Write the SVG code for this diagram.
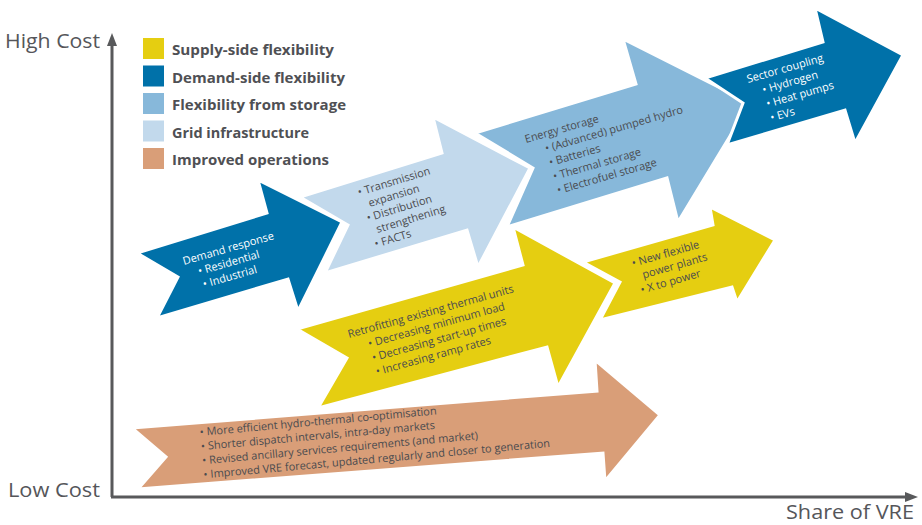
<svg xmlns="http://www.w3.org/2000/svg" width="922" height="525" viewBox="0 0 922 525">
<style>
.arr{stroke:#fff;stroke-width:3;stroke-linejoin:miter}
.sup{fill:#E5CE11}
.dem{fill:#0071A9}
.sto{fill:#87B8DA}
.grd{fill:#C2D9EC}
.ops{fill:#D99E78}
.t{font-family:"Open Sans","Noto Sans",sans-serif;font-size:11px;fill:#4A4B4F}
.tw{font-family:"Open Sans","Noto Sans",sans-serif;font-size:11px;fill:#fff}
.lg{font-family:"Open Sans","Noto Sans",sans-serif;font-size:15px;font-weight:bold;fill:#4F5054}
.ax{font-family:"Open Sans","Noto Sans",sans-serif;font-size:20px;fill:#55565A}
.axl{stroke:#58595B;stroke-width:3;fill:none}
</style>
<defs>
<marker id="ah" markerUnits="userSpaceOnUse" markerWidth="13" markerHeight="10" viewBox="0 0 13 10" refX="0" refY="5" orient="auto">
<path d="M0,0 L13,5 L0,10 z" fill="#58595B"/>
</marker>
</defs>

<g id="axes">
<line class="axl" x1="112" y1="497" x2="112" y2="46" marker-end="url(#ah)"/>
<line class="axl" x1="111" y1="497" x2="905" y2="497" marker-end="url(#ah)"/>
<text class="ax" x="5" y="48" textLength="95" lengthAdjust="spacingAndGlyphs">High Cost</text>
<text class="ax" x="8" y="497" textLength="92" lengthAdjust="spacingAndGlyphs">Low Cost</text>
<text class="ax" x="786" y="519" textLength="128" lengthAdjust="spacingAndGlyphs">Share of VRE</text>
</g>

<g id="legend">
<rect class="sup" x="143" y="38" width="21" height="21"/>
<text class="lg" x="172" y="55" textLength="162" lengthAdjust="spacingAndGlyphs">Supply-side flexibility</text>
<rect class="dem" x="143" y="65.5" width="21" height="21"/>
<text class="lg" x="172" y="82.5" textLength="173" lengthAdjust="spacingAndGlyphs">Demand-side flexibility</text>
<rect class="sto" x="143" y="93" width="21" height="21"/>
<text class="lg" x="172" y="110" textLength="174" lengthAdjust="spacingAndGlyphs">Flexibility from storage</text>
<rect class="grd" x="143" y="120.5" width="21" height="21"/>
<text class="lg" x="172" y="137.5" textLength="137" lengthAdjust="spacingAndGlyphs">Grid infrastructure</text>
<rect class="ops" x="143" y="148" width="21" height="21"/>
<text class="lg" x="172" y="165" textLength="157" lengthAdjust="spacingAndGlyphs">Improved operations</text>
</g>

<g id="improved-operations">
<polygon class="arr ops" points="132,428 597,391 595,360 660,415 605,481 603,453 138,489 166,457"/>
<text class="t" transform="translate(200,436) rotate(-5.2)">
<tspan x="0" y="0">• More efficient hydro-thermal co-optimisation</tspan>
<tspan x="0" dy="14.2">• Shorter dispatch intervals, intra-day markets</tspan>
<tspan x="0" dy="14.2">• Revised ancillary services requirements (and market)</tspan>
<tspan x="0" dy="14.2">• Improved VRE forecast, updated regularly and closer to generation</tspan>
</text>
</g>

<g id="retrofitting">
<polygon class="arr sup" points="297,329 523,265 513,227 615,283 558,387 547,347 318,408 347,358"/>
<text class="t" transform="translate(349,338) rotate(-15.5)">
<tspan x="0" y="0">Retrofitting existing thermal units</tspan>
<tspan x="17" dy="14.5">• Decreasing minimum load</tspan>
<tspan x="17" dy="14.5">• Decreasing start-up times</tspan>
<tspan x="17" dy="14.5">• Increasing ramp rates</tspan>
</text>
</g>

<g id="new-flexible">
<polygon class="arr sup" points="583,262 713,225 710,207 775,240 737,302 732,287 600,320 620,282"/>
<text class="t" transform="translate(633,267) rotate(-16)">
<tspan x="0" y="0">• New flexible</tspan>
<tspan x="7" dy="14">power plants</tspan>
<tspan x="1" dy="14">• X to power</tspan>
</text>
</g>

<g id="demand-response">
<polygon class="arr dem" points="137,253 267,213 258,180 342,222 298,311 288,279 157,318 178,277"/>
<text class="tw" transform="translate(184,265) rotate(-16)">
<tspan x="0" y="0">Demand response</tspan>
<tspan x="12" dy="13.8">• Residential</tspan>
<tspan x="13" dy="13.8">• Industrial</tspan>
</text>
</g>

<g id="grid-infrastructure">
<polygon class="arr grd" points="300,197 442,153 433,117 530,168 478,267 467,230 325,273 348,225"/>
<text class="t" transform="translate(359,196) rotate(-17)">
<tspan x="0" y="0">• Transmission</tspan>
<tspan x="7" dy="13.6">expansion</tspan>
<tspan x="1" dy="13.6">• Distribution</tspan>
<tspan x="7" dy="13.6">strengthening</tspan>
<tspan x="1" dy="13.6">• FACTs</tspan>
</text>
</g>

<g id="energy-storage">
<polygon class="arr sto" points="475,133 636,84 623,39 750,103 678,222 667,178 507,227 533,168"/>
<text class="t" transform="translate(526,143) rotate(-16)">
<tspan x="0" y="0">Energy storage</tspan>
<tspan x="17" dy="14.5">• (Advanced) pumped hydro</tspan>
<tspan x="17" dy="14.5">• Batteries</tspan>
<tspan x="17" dy="14.5">• Thermal storage</tspan>
<tspan x="17" dy="14.5">• Electrofuel storage</tspan>
</text>
</g>

<g id="sector-coupling">
<polygon class="arr dem" points="705,78 823,42 815,8 903,55 855,143 845,110 727,145 743,103"/>
<text class="tw" transform="translate(748,83) rotate(-16)">
<tspan x="0" y="0">Sector coupling</tspan>
<tspan x="12" dy="14.5">• Hydrogen</tspan>
<tspan x="12" dy="14.5">• Heat pumps</tspan>
<tspan x="12" dy="14.5">• EVs</tspan>
</text>
</g>
</svg>
